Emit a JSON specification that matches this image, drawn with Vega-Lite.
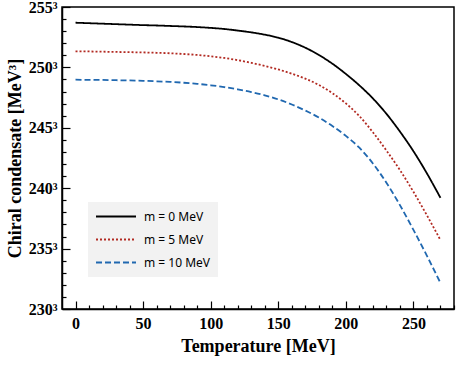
{
  "$schema": "https://vega.github.io/schema/vega-lite/v6.json",
  "width": 392,
  "height": 302,
  "autosize": {"type": "none"},
  "padding": {"left": 62, "top": 7, "right": 9, "bottom": 62},
  "background": "white",
  "config": {
    "view": {"stroke": "black", "strokeWidth": 1.5},
    "axis": {
      "domainColor": "black",
      "domainWidth": 1.5,
      "tickColor": "black",
      "tickWidth": 1.2,
      "grid": false,
      "labelFont": "Liberation Serif",
      "labelFontWeight": "bold",
      "labelFontSize": 16,
      "labelColor": "black",
      "titleFont": "Liberation Serif",
      "titleFontWeight": "bold",
      "titleFontSize": 18,
      "titleColor": "black"
    }
  },
  "data": {
    "values": [
      {"T": 0, "m": "m = 0 MeV", "v": 253.70}, {"T": 10, "m": "m = 0 MeV", "v": 253.66}, {"T": 20, "m": "m = 0 MeV", "v": 253.62}, {"T": 30, "m": "m = 0 MeV", "v": 253.58}, {"T": 40, "m": "m = 0 MeV", "v": 253.54}, {"T": 50, "m": "m = 0 MeV", "v": 253.50}, {"T": 60, "m": "m = 0 MeV", "v": 253.47}, {"T": 70, "m": "m = 0 MeV", "v": 253.43}, {"T": 80, "m": "m = 0 MeV", "v": 253.39}, {"T": 90, "m": "m = 0 MeV", "v": 253.34}, {"T": 100, "m": "m = 0 MeV", "v": 253.27}, {"T": 110, "m": "m = 0 MeV", "v": 253.18}, {"T": 120, "m": "m = 0 MeV", "v": 253.05}, {"T": 130, "m": "m = 0 MeV", "v": 252.90}, {"T": 140, "m": "m = 0 MeV", "v": 252.71}, {"T": 150, "m": "m = 0 MeV", "v": 252.46}, {"T": 160, "m": "m = 0 MeV", "v": 252.10}, {"T": 170, "m": "m = 0 MeV", "v": 251.63}, {"T": 180, "m": "m = 0 MeV", "v": 251.03}, {"T": 190, "m": "m = 0 MeV", "v": 250.31}, {"T": 200, "m": "m = 0 MeV", "v": 249.46}, {"T": 210, "m": "m = 0 MeV", "v": 248.51}, {"T": 220, "m": "m = 0 MeV", "v": 247.43}, {"T": 230, "m": "m = 0 MeV", "v": 246.16}, {"T": 240, "m": "m = 0 MeV", "v": 244.69}, {"T": 250, "m": "m = 0 MeV", "v": 243.06}, {"T": 260, "m": "m = 0 MeV", "v": 241.22}, {"T": 270, "m": "m = 0 MeV", "v": 239.20},
      {"T": 0, "m": "m = 5 MeV", "v": 251.33}, {"T": 10, "m": "m = 5 MeV", "v": 251.32}, {"T": 20, "m": "m = 5 MeV", "v": 251.30}, {"T": 30, "m": "m = 5 MeV", "v": 251.28}, {"T": 40, "m": "m = 5 MeV", "v": 251.26}, {"T": 50, "m": "m = 5 MeV", "v": 251.24}, {"T": 60, "m": "m = 5 MeV", "v": 251.21}, {"T": 70, "m": "m = 5 MeV", "v": 251.17}, {"T": 80, "m": "m = 5 MeV", "v": 251.11}, {"T": 90, "m": "m = 5 MeV", "v": 251.03}, {"T": 100, "m": "m = 5 MeV", "v": 250.92}, {"T": 110, "m": "m = 5 MeV", "v": 250.78}, {"T": 120, "m": "m = 5 MeV", "v": 250.60}, {"T": 130, "m": "m = 5 MeV", "v": 250.38}, {"T": 140, "m": "m = 5 MeV", "v": 250.12}, {"T": 150, "m": "m = 5 MeV", "v": 249.83}, {"T": 160, "m": "m = 5 MeV", "v": 249.48}, {"T": 170, "m": "m = 5 MeV", "v": 249.07}, {"T": 180, "m": "m = 5 MeV", "v": 248.55}, {"T": 190, "m": "m = 5 MeV", "v": 247.87}, {"T": 200, "m": "m = 5 MeV", "v": 247.02}, {"T": 210, "m": "m = 5 MeV", "v": 245.97}, {"T": 220, "m": "m = 5 MeV", "v": 244.63}, {"T": 230, "m": "m = 5 MeV", "v": 243.12}, {"T": 240, "m": "m = 5 MeV", "v": 241.50}, {"T": 250, "m": "m = 5 MeV", "v": 239.70}, {"T": 260, "m": "m = 5 MeV", "v": 237.75}, {"T": 270, "m": "m = 5 MeV", "v": 235.70},
      {"T": 0, "m": "m = 10 MeV", "v": 248.98}, {"T": 10, "m": "m = 10 MeV", "v": 248.97}, {"T": 20, "m": "m = 10 MeV", "v": 248.96}, {"T": 30, "m": "m = 10 MeV", "v": 248.94}, {"T": 40, "m": "m = 10 MeV", "v": 248.92}, {"T": 50, "m": "m = 10 MeV", "v": 248.89}, {"T": 60, "m": "m = 10 MeV", "v": 248.85}, {"T": 70, "m": "m = 10 MeV", "v": 248.80}, {"T": 80, "m": "m = 10 MeV", "v": 248.73}, {"T": 90, "m": "m = 10 MeV", "v": 248.64}, {"T": 100, "m": "m = 10 MeV", "v": 248.52}, {"T": 110, "m": "m = 10 MeV", "v": 248.37}, {"T": 120, "m": "m = 10 MeV", "v": 248.18}, {"T": 130, "m": "m = 10 MeV", "v": 247.96}, {"T": 140, "m": "m = 10 MeV", "v": 247.69}, {"T": 150, "m": "m = 10 MeV", "v": 247.35}, {"T": 160, "m": "m = 10 MeV", "v": 246.93}, {"T": 170, "m": "m = 10 MeV", "v": 246.43}, {"T": 180, "m": "m = 10 MeV", "v": 245.85}, {"T": 190, "m": "m = 10 MeV", "v": 245.15}, {"T": 200, "m": "m = 10 MeV", "v": 244.33}, {"T": 210, "m": "m = 10 MeV", "v": 243.35}, {"T": 220, "m": "m = 10 MeV", "v": 242.05}, {"T": 230, "m": "m = 10 MeV", "v": 240.45}, {"T": 240, "m": "m = 10 MeV", "v": 238.60}, {"T": 250, "m": "m = 10 MeV", "v": 236.55}, {"T": 260, "m": "m = 10 MeV", "v": 234.40}, {"T": 270, "m": "m = 10 MeV", "v": 232.15}
    ]
  },
  "mark": {"type": "line", "strokeWidth": 1.8, "interpolate": "monotone"},
  "encoding": {
    "x": {
      "field": "T", "type": "quantitative",
      "scale": {"domain": [-10, 280], "nice": false, "zero": false},
      "axis": {
        "title": "Temperature [MeV]",
        "values": [0, 10, 20, 30, 40, 50, 60, 70, 80, 90, 100, 110, 120, 130, 140, 150, 160, 170, 180, 190, 200, 210, 220, 230, 240, 250, 260, 270, 280],
        "labelExpr": "datum.value % 50 == 0 ? datum.value : ''",
        "tickSize": {"condition": {"test": "datum.value % 50 == 0", "value": -8}, "value": -4},
        "labelPadding": 14,
        "titlePadding": 2,
        "labelFlush": false,
        "labelOverlap": false
      }
    },
    "y": {
      "field": "v", "type": "quantitative",
      "scale": {"domain": [230, 255], "nice": false, "zero": false},
      "axis": {
        "title": "Chiral condensate [MeV³]",
        "values": [230, 231, 232, 233, 234, 235, 236, 237, 238, 239, 240, 241, 242, 243, 244, 245, 246, 247, 248, 249, 250, 251, 252, 253, 254, 255],
        "labelExpr": "datum.value % 5 == 0 ? datum.value + '³' : ''",
        "tickSize": {"condition": {"test": "datum.value % 5 == 0", "value": -8}, "value": -4},
        "labelPadding": 13,
        "titlePadding": 4,
        "labelFlush": false,
        "labelOverlap": false
      }
    },
    "color": {
      "field": "m", "type": "nominal",
      "scale": {"domain": ["m = 0 MeV", "m = 5 MeV", "m = 10 MeV"], "range": ["#000000", "#b22a22", "#2068b0"]},
      "legend": {
        "title": null,
        "orient": "none",
        "legendX": 26,
        "legendY": 195,
        "fillColor": "#f2f2f2",
        "padding": 7,
        "symbolType": "stroke",
        "symbolSize": 1600,
        "symbolStrokeWidth": 1.8,
        "clipHeight": 15,
        "labelFont": "Noto Sans",
        "labelFontSize": 12,
        "labelColor": "black",
        "rowPadding": 8,
        "labelOffset": 7
      }
    },
    "strokeDash": {
      "field": "m", "type": "nominal",
      "scale": {"domain": ["m = 0 MeV", "m = 5 MeV", "m = 10 MeV"], "range": [[1, 0], [2, 2], [6, 3]]}
    }
  }
}
